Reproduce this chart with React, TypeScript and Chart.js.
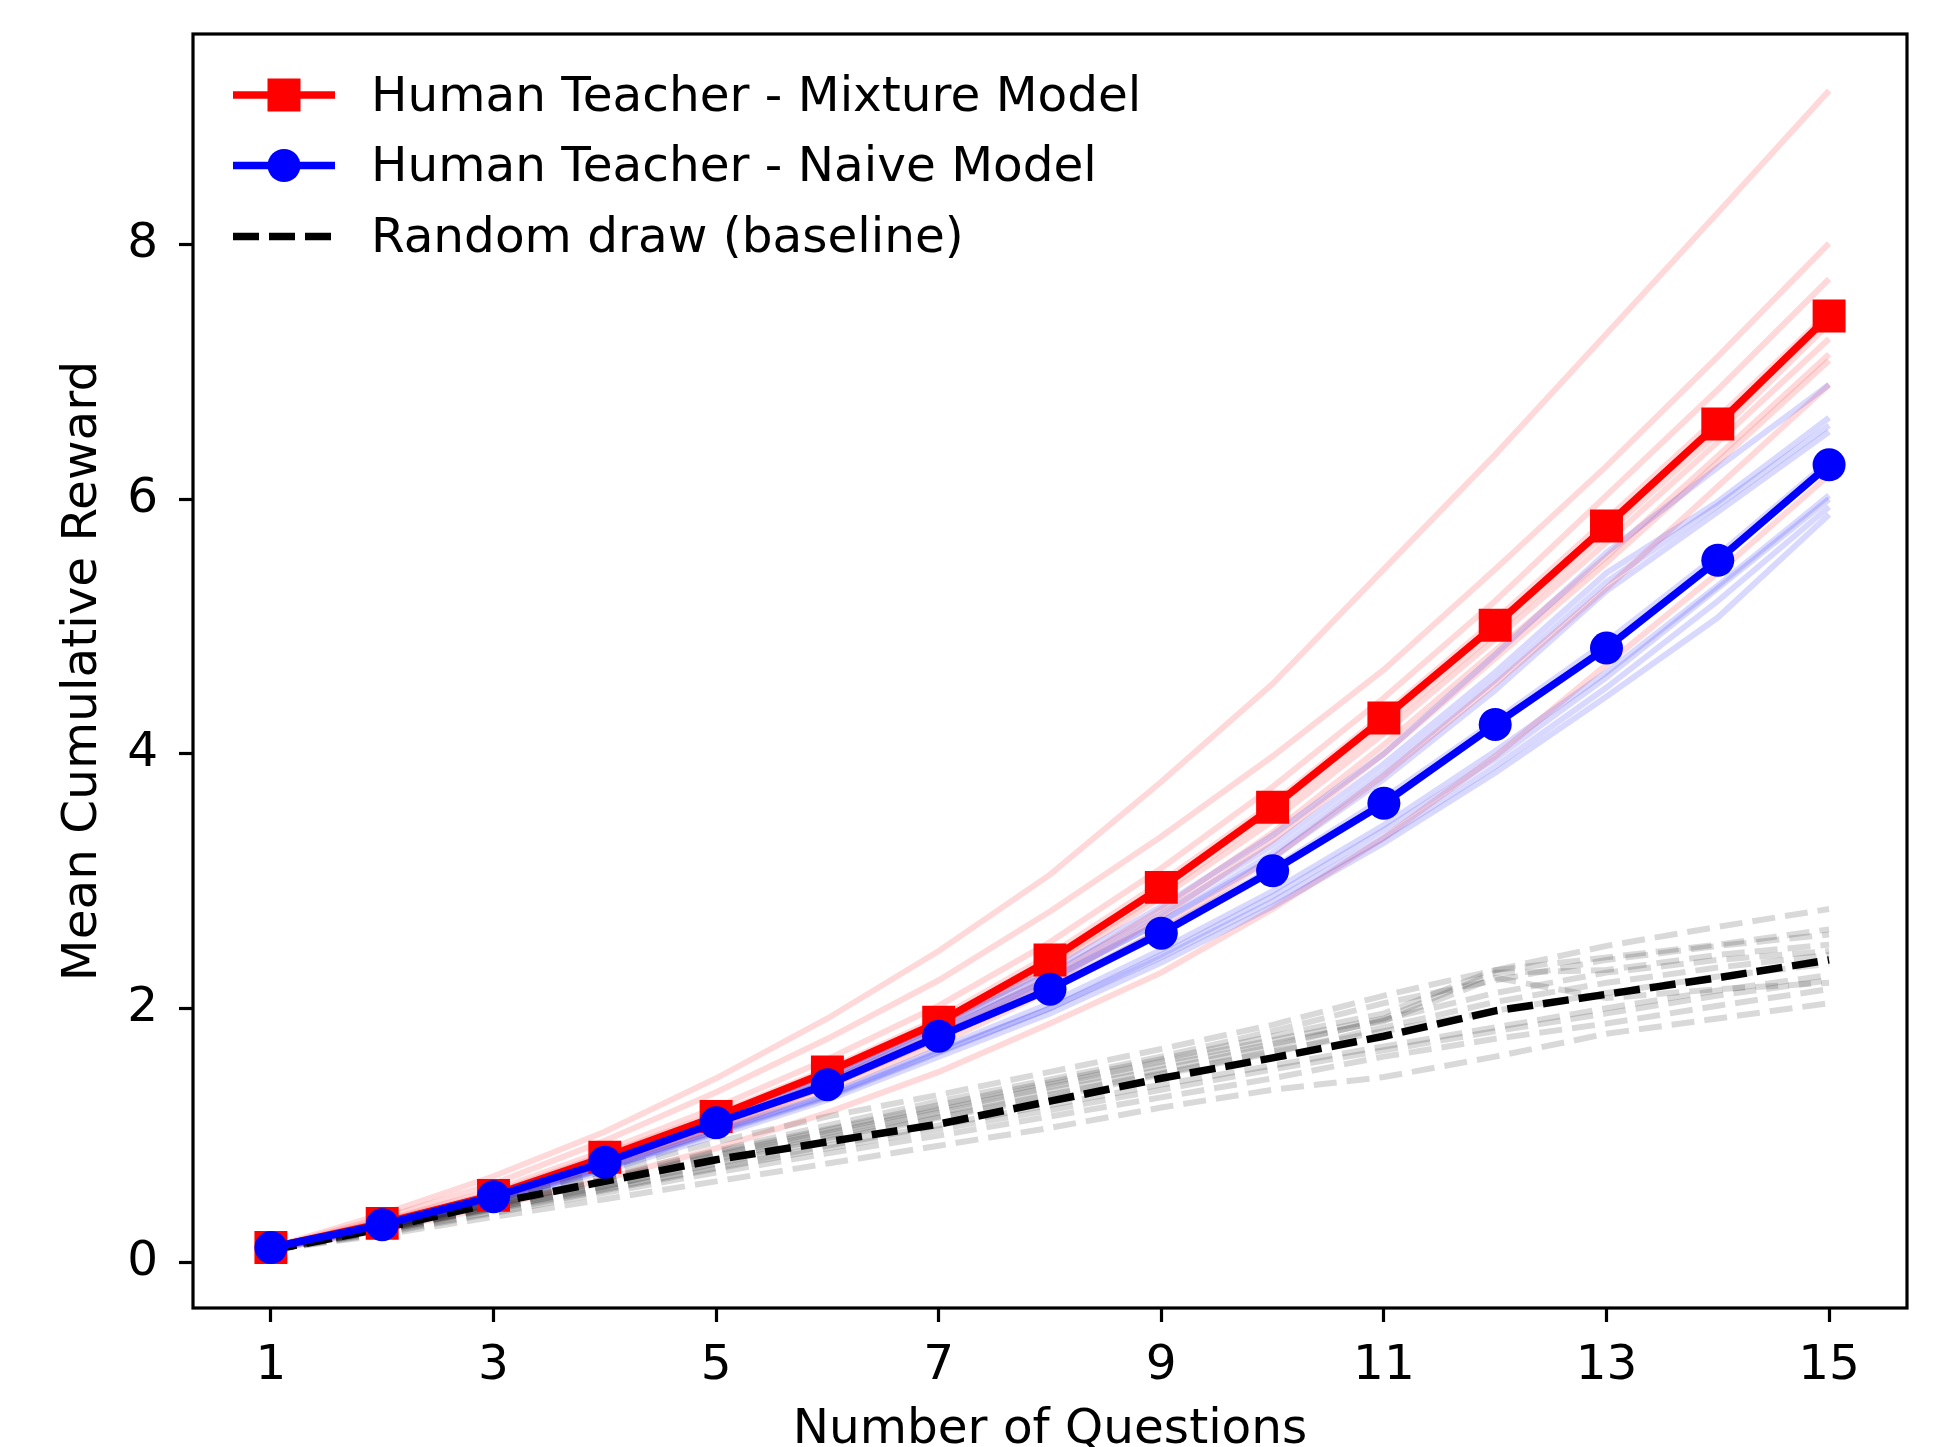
import React, { useEffect, useRef } from 'react';
import { Chart, registerables } from 'chart.js';

Chart.register(...registerables);

const questions = [1, 2, 3, 4, 5, 6, 7, 8, 9, 10, 11, 12, 13, 14, 15];
const xTicks = [1, 3, 5, 7, 9, 11, 13, 15];
const yTicks = [0, 2, 4, 6, 8];

const mixtureMean = [0.12, 0.31, 0.53, 0.83, 1.15, 1.5, 1.89, 2.38, 2.95, 3.58, 4.28, 5.01, 5.79, 6.59, 7.44];
const naiveMean = [0.12, 0.3, 0.52, 0.79, 1.1, 1.4, 1.78, 2.15, 2.59, 3.08, 3.61, 4.23, 4.83, 5.52, 6.27];
const randomMean = [0.1, 0.27, 0.47, 0.64, 0.81, 0.95, 1.09, 1.27, 1.45, 1.61, 1.78, 1.98, 2.11, 2.24, 2.38];

const mixtureRun1 = [0.12, 0.38, 0.68, 1.03, 1.45, 1.92, 2.45, 3.05, 3.78, 4.55, 5.45, 6.35, 7.3, 8.25, 9.21];
const mixtureRun2 = [0.12, 0.35, 0.62, 0.96, 1.34, 1.76, 2.22, 2.76, 3.35, 3.98, 4.66, 5.45, 6.26, 7.12, 8.01];
const mixtureRun3 = [0.12, 0.33, 0.57, 0.88, 1.22, 1.6, 2.02, 2.52, 3.1, 3.74, 4.44, 5.2, 6.03, 6.86, 7.73];
const mixtureRun4 = [0.12, 0.32, 0.55, 0.85, 1.17, 1.52, 1.92, 2.42, 2.99, 3.61, 4.31, 5.05, 5.84, 6.64, 7.47];
const mixtureRun5 = [0.12, 0.31, 0.53, 0.81, 1.11, 1.46, 1.86, 2.32, 2.87, 3.47, 4.16, 4.9, 5.66, 6.45, 7.26];
const mixtureRun6 = [0.11, 0.3, 0.51, 0.79, 1.08, 1.42, 1.8, 2.25, 2.78, 3.38, 4.07, 4.81, 5.55, 6.34, 7.14];
const mixtureRun7 = [0.12, 0.3, 0.5, 0.77, 1.06, 1.39, 1.76, 2.2, 2.72, 3.32, 4.0, 4.75, 5.5, 6.29, 7.09];
const mixtureRun8 = [0.11, 0.29, 0.5, 0.76, 1.04, 1.36, 1.72, 2.14, 2.62, 3.18, 3.83, 4.55, 5.3, 6.1, 6.9];
const mixtureRun9 = [0.1, 0.26, 0.44, 0.66, 0.9, 1.18, 1.5, 1.88, 2.28, 2.78, 3.34, 3.98, 4.7, 5.42, 6.19];
const mixtureRun10 = [0.12, 0.31, 0.54, 0.83, 1.14, 1.49, 1.87, 2.35, 2.91, 3.53, 4.22, 4.95, 5.73, 6.52, 7.38];

const naiveRun1 = [0.12, 0.31, 0.54, 0.83, 1.15, 1.48, 1.88, 2.3, 2.8, 3.36, 4.0, 4.78, 5.58, 6.25, 6.9];
const naiveRun2 = [0.12, 0.31, 0.54, 0.82, 1.13, 1.46, 1.86, 2.27, 2.74, 3.28, 3.92, 4.64, 5.42, 5.98, 6.64];
const naiveRun3 = [0.11, 0.3, 0.52, 0.8, 1.1, 1.42, 1.82, 2.22, 2.68, 3.22, 3.86, 4.58, 5.35, 5.95, 6.58];
const naiveRun4 = [0.12, 0.3, 0.53, 0.8, 1.12, 1.44, 1.83, 2.23, 2.68, 3.18, 3.8, 4.5, 5.28, 5.9, 6.53];
const naiveRun5 = [0.11, 0.28, 0.49, 0.75, 1.04, 1.32, 1.68, 2.04, 2.46, 2.92, 3.44, 4.02, 4.64, 5.32, 6.03];
const naiveRun6 = [0.1, 0.28, 0.48, 0.74, 1.02, 1.3, 1.65, 2.0, 2.42, 2.88, 3.4, 3.96, 4.6, 5.3, 6.0];
const naiveRun7 = [0.11, 0.28, 0.49, 0.74, 1.03, 1.31, 1.66, 2.0, 2.4, 2.84, 3.34, 3.9, 4.52, 5.2, 5.94];
const naiveRun8 = [0.1, 0.27, 0.47, 0.72, 1.0, 1.28, 1.62, 1.96, 2.36, 2.8, 3.3, 3.85, 4.45, 5.07, 5.88];
const naiveRun9 = [0.12, 0.3, 0.52, 0.79, 1.1, 1.41, 1.79, 2.17, 2.61, 3.1, 3.65, 4.26, 4.88, 5.56, 6.3];

const randomRun1 = [0.1, 0.3, 0.5, 0.72, 0.95, 1.15, 1.32, 1.5, 1.68, 1.87, 2.1, 2.3, 2.49, 2.64, 2.78];
const randomRun2 = [0.1, 0.27, 0.46, 0.66, 0.87, 1.05, 1.24, 1.42, 1.6, 1.78, 1.96, 2.3, 2.4, 2.5, 2.62];
const randomRun3 = [0.1, 0.28, 0.47, 0.68, 0.88, 1.08, 1.27, 1.44, 1.62, 1.82, 2.04, 2.22, 2.38, 2.49, 2.58];
const randomRun4 = [0.1, 0.26, 0.44, 0.62, 0.82, 1.0, 1.18, 1.35, 1.52, 1.7, 1.91, 2.12, 2.28, 2.38, 2.45];
const randomRun5 = [0.1, 0.25, 0.43, 0.6, 0.78, 0.96, 1.14, 1.3, 1.48, 1.65, 1.85, 2.05, 2.2, 2.32, 2.42];
const randomRun6 = [0.1, 0.25, 0.42, 0.58, 0.75, 0.92, 1.08, 1.24, 1.4, 1.55, 1.7, 1.85, 2.0, 2.14, 2.26];
const randomRun7 = [0.1, 0.24, 0.4, 0.57, 0.74, 0.9, 1.05, 1.2, 1.36, 1.52, 1.67, 1.82, 1.96, 2.1, 2.22];
const randomRun8 = [0.1, 0.23, 0.39, 0.55, 0.71, 0.86, 1.0, 1.15, 1.3, 1.45, 1.62, 1.76, 1.88, 2.02, 2.15];
const randomRun9 = [0.1, 0.22, 0.36, 0.5, 0.64, 0.78, 0.92, 1.06, 1.22, 1.36, 1.46, 1.62, 1.8, 1.92, 2.04];
const randomRun10 = [0.1, 0.26, 0.45, 0.64, 0.84, 1.02, 1.2, 1.38, 1.55, 1.72, 1.9, 2.24, 2.08, 2.15, 2.2];
const randomRun11 = [0.1, 0.27, 0.46, 0.65, 0.85, 1.04, 1.22, 1.4, 1.58, 1.75, 1.92, 2.28, 2.3, 2.42, 2.5];
const randomRun12 = [0.1, 0.26, 0.43, 0.6, 0.8, 0.98, 1.15, 1.32, 1.49, 1.66, 1.82, 1.98, 2.12, 2.25, 2.35];

const mixtureRuns = [mixtureRun1, mixtureRun2, mixtureRun3, mixtureRun4, mixtureRun5, mixtureRun6, mixtureRun7, mixtureRun8, mixtureRun9, mixtureRun10];
const naiveRuns = [naiveRun1, naiveRun2, naiveRun3, naiveRun4, naiveRun5, naiveRun6, naiveRun7, naiveRun8, naiveRun9];
const randomRuns = [randomRun1, randomRun2, randomRun3, randomRun4, randomRun5, randomRun6, randomRun7, randomRun8, randomRun9, randomRun10, randomRun11, randomRun12];

const legendLabels = ['Human Teacher - Mixture Model', 'Human Teacher - Naive Model', 'Random draw (baseline)'];

const FONT = "'DejaVu Sans', sans-serif";
const FONT_SIZE = 48.5;
const W = 1948;
const H = 1447;

const toPoints = (ys: number[]) => ys.map((y, i) => ({ x: questions[i], y }));

const frameAndLegend = {
  id: 'frameAndLegend',
  afterDraw(chart: any) {
    const { ctx, chartArea } = chart;
    ctx.save();
    // axes frame
    ctx.strokeStyle = '#000';
    ctx.lineWidth = 3.2;
    ctx.setLineDash([]);
    ctx.strokeRect(chartArea.left, chartArea.top, chartArea.right - chartArea.left, chartArea.bottom - chartArea.top);

    // legend
    const x0 = 233;
    const x1 = 335;
    const xm = (x0 + x1) / 2;
    const textX = 371;
    const rows = [95, 165.5, 236.5];
    ctx.font = `${FONT_SIZE}px ${FONT}`;
    ctx.textBaseline = 'middle';
    ctx.textAlign = 'left';

    // row 1
    ctx.strokeStyle = '#ff0000';
    ctx.lineWidth = 7.5;
    ctx.beginPath();
    ctx.moveTo(x0, rows[0]);
    ctx.lineTo(x1, rows[0]);
    ctx.stroke();
    ctx.fillStyle = '#ff0000';
    ctx.fillRect(xm - 16.5, rows[0] - 16.5, 33, 33);

    // row 2
    ctx.strokeStyle = '#0000ff';
    ctx.beginPath();
    ctx.moveTo(x0, rows[1]);
    ctx.lineTo(x1, rows[1]);
    ctx.stroke();
    ctx.fillStyle = '#0000ff';
    ctx.beginPath();
    ctx.arc(xm, rows[1], 16.5, 0, Math.PI * 2);
    ctx.fill();

    // row 3
    ctx.strokeStyle = '#000';
    ctx.setLineDash([26, 10]);
    ctx.beginPath();
    ctx.moveTo(x0, rows[2]);
    ctx.lineTo(x1, rows[2]);
    ctx.stroke();
    ctx.setLineDash([]);

    ctx.fillStyle = '#000';
    legendLabels.forEach((t, i) => ctx.fillText(t, textX, rows[i] + 3));
    ctx.restore();
  },
};

export default function App() {
  const ref = useRef<HTMLCanvasElement | null>(null);

  useEffect(() => {
    document.body.style.margin = '0';
    const canvas = ref.current;
    if (!canvas) return;

    const datasets: any[] = [];
    mixtureRuns.forEach((r) =>
      datasets.push({
        data: toPoints(r),
        borderColor: 'rgba(255,0,0,0.15)',
        borderWidth: 6,
        pointRadius: 0,
        tension: 0,
        order: 10,
      })
    );
    naiveRuns.forEach((r) =>
      datasets.push({
        data: toPoints(r),
        borderColor: 'rgba(0,0,255,0.15)',
        borderWidth: 6,
        pointRadius: 0,
        tension: 0,
        order: 9,
      })
    );
    randomRuns.forEach((r) =>
      datasets.push({
        data: toPoints(r),
        borderColor: 'rgba(0,0,0,0.15)',
        borderWidth: 6,
        borderDash: [23, 10],
        pointRadius: 0,
        tension: 0,
        order: 8,
      })
    );
    datasets.push({
      label: legendLabels[2],
      data: toPoints(randomMean),
      borderColor: '#000',
      borderWidth: 7.5,
      borderDash: [26, 10],
      pointRadius: 0,
      tension: 0,
      order: 3,
    });
    datasets.push({
      label: legendLabels[0],
      data: toPoints(mixtureMean),
      borderColor: '#ff0000',
      backgroundColor: '#ff0000',
      borderWidth: 7.5,
      pointStyle: 'rect',
      pointRadius: 23.3,
      pointBorderWidth: 0,
      pointBackgroundColor: '#ff0000',
      tension: 0,
      order: 2,
    });
    datasets.push({
      label: legendLabels[1],
      data: toPoints(naiveMean),
      borderColor: '#0000ff',
      backgroundColor: '#0000ff',
      borderWidth: 7.5,
      pointStyle: 'circle',
      pointRadius: 16.5,
      pointBorderWidth: 0,
      pointBackgroundColor: '#0000ff',
      tension: 0,
      order: 1,
    });

    const chart = new Chart(canvas, {
      type: 'line',
      data: { datasets },
      options: {
        responsive: false,
        animation: false,
        devicePixelRatio: 1,
        layout: { padding: { left: 0, right: 41, top: 34, bottom: 0 } },
        plugins: {
          legend: { display: false },
          tooltip: { enabled: false },
        },
        elements: { line: { fill: false } },
        scales: {
          x: {
            type: 'linear',
            min: 0.3,
            max: 15.7,
            afterBuildTicks: (axis: any) => {
              axis.ticks = xTicks.map((v) => ({ value: v }));
            },
            afterFit: (axis: any) => {
              axis.height = H - 1308;
              axis.paddingLeft = 0;
              axis.paddingRight = 0;
              axis.paddingTop = 0;
              axis.paddingBottom = 0;
            },
            border: { display: false },
            grid: {
              display: true,
              drawOnChartArea: false,
              drawTicks: true,
              tickLength: 14,
              tickWidth: 3.2,
              tickColor: '#000',
            },
            ticks: {
              color: '#000',
              font: { family: FONT, size: FONT_SIZE },
              padding: 15,
              maxRotation: 0,
              autoSkip: false,
            },
            title: {
              display: true,
              text: 'Number of Questions',
              color: '#000',
              font: { family: FONT, size: FONT_SIZE },
              padding: { top: 0, bottom: -12.5 },
            },
          },
          y: {
            type: 'linear',
            min: -0.355,
            max: 9.655,
            afterBuildTicks: (axis: any) => {
              axis.ticks = yTicks.map((v) => ({ value: v }));
            },
            afterFit: (axis: any) => {
              axis.width = 193;
              axis.paddingLeft = 0;
              axis.paddingRight = 0;
              axis.paddingTop = 0;
              axis.paddingBottom = 0;
            },
            border: { display: false },
            grid: {
              display: true,
              drawOnChartArea: false,
              drawTicks: true,
              tickLength: 14,
              tickWidth: 3.2,
              tickColor: '#000',
            },
            ticks: {
              color: '#000',
              font: { family: FONT, size: FONT_SIZE },
              padding: 21,
              autoSkip: false,
            },
            title: {
              display: true,
              text: 'Mean Cumulative Reward',
              color: '#000',
              font: { family: FONT, size: FONT_SIZE },
              padding: { top: 54, bottom: 0 },
            },
          },
        },
      },
      plugins: [frameAndLegend],
    });

    return () => chart.destroy();
  }, []);

  return (
    <div style={{ position: 'absolute', left: 0, top: 0, width: W, height: H, background: '#fff' }}>
      <canvas ref={ref} width={W} height={H} style={{ width: W, height: H, display: 'block' }} />
    </div>
  );
}
